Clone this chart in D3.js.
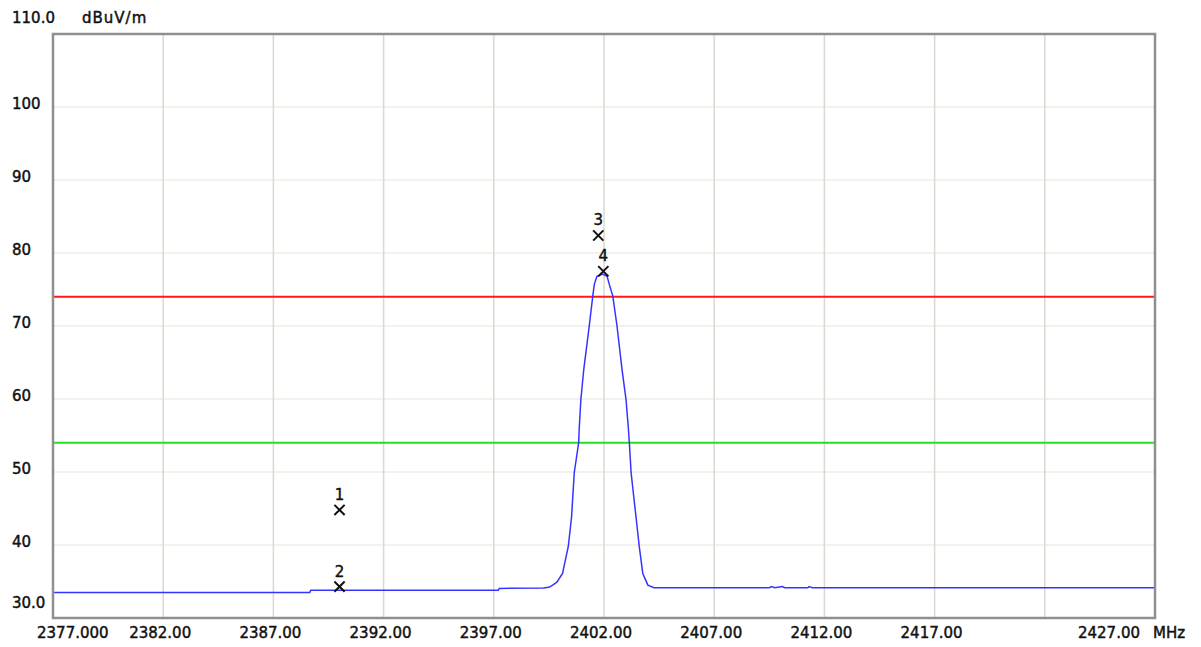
<!DOCTYPE html>
<html>
<head>
<meta charset="utf-8">
<script src="https://cdn.jsdelivr.net/npm/d3@7"></script>
<style>
  body { margin: 0; background: #fff; }
  svg text { font-family: "DejaVu Sans", sans-serif; font-size: 15px; fill: #111; stroke: #111; stroke-width: 0.45px; }
</style>
</head>
<body>
<div id="chart"></div>
<script>
//* ------------------------------ DATA ---------------------------------------- //
// spectrum trace (MHz, dBuV/m)
const traceFreq = [2377, 2388.65, 2388.7, 2397.2, 2397.25, 2399.25, 2399.5, 2399.67, 2399.86,
  2400.12, 2400.25, 2400.38, 2400.53, 2400.65, 2400.85, 2400.88, 2400.95, 2401.08, 2401.33,
  2401.49, 2401.56, 2401.68, 2401.94, 2402.14, 2402.24, 2402.40, 2402.59, 2402.82, 2403.0,
  2403.10, 2403.15, 2403.23, 2403.45, 2403.60, 2403.76, 2403.99, 2404.27, 2409.5, 2409.6,
  2409.75, 2410.1, 2410.2, 2411.25, 2411.3, 2411.45, 2427];
const traceLevel = [33.5, 33.5, 33.8, 33.8, 34.05, 34.1, 34.2, 34.5, 34.9,
  36.1, 38.0, 39.8, 43.9, 49.9, 54.0, 56.2, 59.9, 64.0, 70.0,
  74.1, 75.7, 76.8, 77.1, 76.8, 75.7, 74.1, 70.0, 64.0, 59.9,
  56.2, 54.0, 49.9, 43.9, 39.8, 36.1, 34.5, 34.15, 34.15, 34.3,
  34.15, 34.3, 34.15, 34.15, 34.3, 34.15, 34.15];

// limit lines
const limitNames = ["peak", "average"];
const limitLevels = [74, 54];
const limitColors = ["#ff1a1a", "#22e022"];

// markers
const markerIds = ["1", "2", "3", "4"];
const markerFreq = [2390.0, 2390.0, 2401.74, 2401.97];
const markerLevel = [44.8, 34.3, 82.4, 77.5];

// axes
const xTicks = [2377, 2382, 2387, 2392, 2397, 2402, 2407, 2412, 2417, 2422, 2427];
const xTickLabels = ["2377.000", "2382.00", "2387.00", "2392.00", "2397.00", "2402.00",
  "2407.00", "2412.00", "2417.00", "", "2427.00"];
const yTicks = [30, 40, 50, 60, 70, 80, 90, 100, 110];
const yTickLabels = ["30.0", "40", "50", "60", "70", "80", "90", "100", "110.0"];
//* ------------------------------ END DATA ------------------------------------ //

const width = 1201, height = 647;
const plot = {left: 53, right: 1155, top: 34, bottom: 618};

const svg = d3.select("#chart").append("svg")
  .attr("width", width)
  .attr("height", height);

const x = d3.scaleLinear().domain([2377, 2427]).range([plot.left, plot.right]);
const y = d3.scaleLinear().domain([30, 110]).range([plot.bottom, plot.top]);

// grid
svg.append("g").selectAll("line").data(yTicks.slice(1, -1)).join("line")
  .attr("x1", plot.left).attr("x2", plot.right)
  .attr("y1", d => y(d)).attr("y2", d => y(d))
  .attr("stroke", "#eeece6").attr("stroke-width", 1.5);

svg.append("g").selectAll("line").data(xTicks.slice(1, -1)).join("line")
  .attr("x1", d => x(d)).attr("x2", d => x(d))
  .attr("y1", plot.top).attr("y2", plot.bottom)
  .attr("stroke", "#dcd8cf").attr("stroke-width", 1.5);

// limit lines
svg.append("g").selectAll("line").data(limitNames).join("line")
  .attr("x1", plot.left).attr("x2", plot.right)
  .attr("y1", (d, i) => y(limitLevels[i])).attr("y2", (d, i) => y(limitLevels[i]))
  .attr("stroke", (d, i) => limitColors[i]).attr("stroke-width", 2);

// trace
const tracePts = traceFreq.map((f, i) => [f, traceLevel[i]]);
svg.append("path")
  .datum(tracePts)
  .attr("fill", "none")
  .attr("stroke", "#3434ff")
  .attr("stroke-width", 1.5)
  .attr("d", d3.line().x(d => x(d[0])).y(d => y(d[1])));

// markers
const mk = svg.append("g").selectAll("g").data(markerIds).join("g")
  .attr("transform", (d, i) => `translate(${x(markerFreq[i])},${y(markerLevel[i])})`);
mk.append("path")
  .attr("d", d3.symbol().type(d3.symbolTimes).size(70))
  .attr("fill", "none")
  .attr("stroke", "#111")
  .attr("stroke-width", 2);
mk.append("text")
  .attr("y", -10)
  .attr("text-anchor", "middle")
  .text(d => d);

// frame
svg.append("rect")
  .attr("x", plot.left).attr("y", plot.top)
  .attr("width", plot.right - plot.left).attr("height", plot.bottom - plot.top)
  .attr("fill", "none").attr("stroke", "#8f8f8f").attr("stroke-width", 2.5);

// x labels
svg.append("g").selectAll("text").data(xTicks).join("text")
  .attr("x", (d, i) => i === 0 ? x(d) - 16 : i === xTicks.length - 1 ? x(d) - 15 : x(d) - 3)
  .attr("y", 638)
  .attr("text-anchor", (d, i) => i === 0 ? "start" : i === xTicks.length - 1 ? "end" : "middle")
  .text((d, i) => xTickLabels[i]);
svg.append("text").attr("x", 1153).attr("y", 638).text("MHz");

// y labels
svg.append("g").selectAll("text").data(yTicks).join("text")
  .attr("x", 12)
  .attr("y", (d, i) => i === 0 ? y(d) - 10 : i === yTicks.length - 1 ? 22.5 : y(d) + 2)
  .text((d, i) => yTickLabels[i]);
svg.append("text").attr("x", 82).attr("y", 22.5).attr("letter-spacing", 1).text("dBuV/m");
</script>
</body>
</html>
